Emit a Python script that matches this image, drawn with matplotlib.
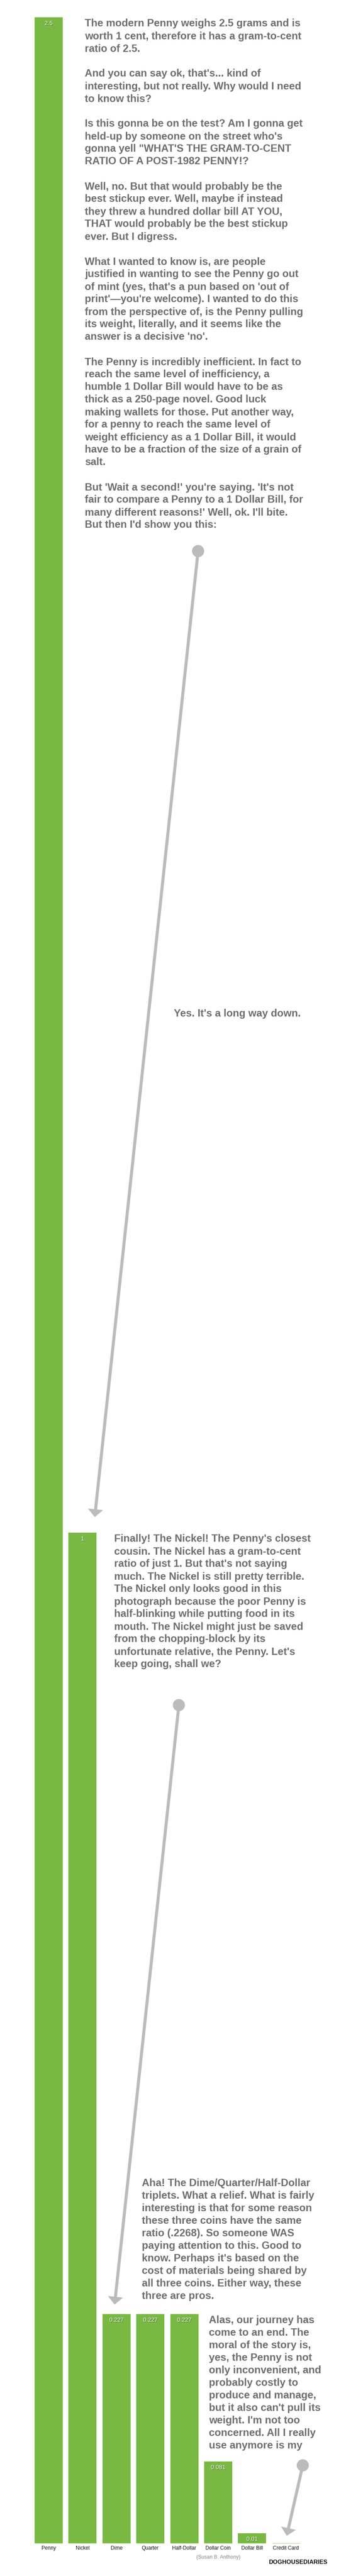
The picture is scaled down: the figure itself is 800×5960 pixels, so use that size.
import matplotlib
matplotlib.use('Agg')
import matplotlib.pyplot as plt
import matplotlib.patheffects as pe
from matplotlib.patches import Circle, Polygon
import numpy as np

# ---------------- data ----------------
categories = ['Penny', 'Nickel', 'Dime', 'Quarter', 'Half-Dollar',
              'Dollar Coin', 'Dollar Bill', 'Credit Card']
grams_per_cent = [2.5, 1.0, 0.2268, 0.2268, 0.2268, 0.081, 0.01, 0.0]
value_labels = ['2.5', '1', '0.227', '0.227', '0.227', '0.081', '0.01', '']
subnote = '(Susan B. Anthony)'
credit = 'DOGHOUSEDIARIES'

intro_lines = [
    "The modern Penny weighs 2.5 grams and is",
    "worth 1 cent, therefore it has a gram-to-cent",
    "ratio of 2.5.",
    "",
    "And you can say ok, that's... kind of",
    "interesting, but not really. Why would I need",
    "to know this?",
    "",
    "Is this gonna be on the test? Am I gonna get",
    "held-up by someone on the street who's",
    "gonna yell \"WHAT'S THE GRAM-TO-CENT",
    "RATIO OF A POST-1982 PENNY!?",
    "",
    "Well, no. But that would probably be the",
    "best stickup ever. Well, maybe if instead",
    "they threw a hundred dollar bill AT YOU,",
    "THAT would probably be the best stickup",
    "ever. But I digress.",
    "",
    "What I wanted to know is, are people",
    "justified in wanting to see the Penny go out",
    "of mint (yes, that's a pun based on 'out of",
    "print'\u2014you're welcome). I wanted to do this",
    "from the perspective of, is the Penny pulling",
    "its weight, literally, and it seems like the",
    "answer is a decisive 'no'.",
    "",
    "The Penny is incredibly inefficient. In fact to",
    "reach the same level of inefficiency, a",
    "humble 1 Dollar Bill would have to be as",
    "thick as a 250-page novel. Good luck",
    "making wallets for those. Put another way,",
    "for a penny to reach the same level of",
    "weight efficiency as a 1 Dollar Bill, it would",
    "have to be a fraction of the size of a grain of",
    "salt.",
    "",
    "But 'Wait a second!' you're saying. 'It's not",
    "fair to compare a Penny to a 1 Dollar Bill, for",
    "many different reasons!' Well, ok. I'll bite.",
    "But then I'd show you this:",
]
long_way_lines = ["Yes. It's a long way down."]
nickel_lines = [
    "Finally! The Nickel! The Penny's closest",
    "cousin. The Nickel has a gram-to-cent",
    "ratio of just 1. But that's not saying",
    "much. The Nickel is still pretty terrible.",
    "The Nickel only looks good in this",
    "photograph because the poor Penny is",
    "half-blinking while putting food in its",
    "mouth. The Nickel might just be saved",
    "from the chopping-block by its",
    "unfortunate relative, the Penny. Let's",
    "keep going, shall we?",
]
triplet_lines = [
    "Aha! The Dime/Quarter/Half-Dollar",
    "triplets. What a relief. What is fairly",
    "interesting is that for some reason",
    "these three coins have the same",
    "ratio (.2268). So someone WAS",
    "paying attention to this. Good to",
    "know. Perhaps it's based on the",
    "cost of materials being shared by",
    "all three coins. Either way, these",
    "three are pros.",
]
end_lines = [
    "Alas, our journey has",
    "come to an end. The",
    "moral of the story is,",
    "yes, the Penny is not",
    "only inconvenient, and",
    "probably costly to",
    "produce and manage,",
    "but it also can't pull its",
    "weight. I'm not too",
    "concerned. All I really",
    "use anymore is my",
]

# ---------------- style / layout ----------------
W, H, DPI = 800, 5960, 100
GREEN = '#79b943'
GREEN_LIGHT = '#b3da90'
TEXT_GREY = '#6e6e6e'
ARROW_GREY = '#bbbbbb'
FONT = ['Liberation Sans', 'DejaVu Sans']
PX = 72.0 / DPI          # points per pixel
BAR_W = 0.83

fig = plt.figure(figsize=(W / DPI, H / DPI), dpi=DPI)
fig.patch.set_facecolor('white')

# chart axes (pixel geometry measured from reference)
x_left, x_right = 73.3, 700.5
y_zero, y_top = 5884.0, 40.0
ax = fig.add_axes([x_left / W, (H - y_zero) / H,
                   (x_right - x_left) / W, (y_zero - y_top) / H])
xpos = np.arange(len(categories))
ax.bar(xpos, grams_per_cent, width=BAR_W, color=GREEN, linewidth=0)
# thin light strip at the foot of each bar
ax.hlines([0] * len(xpos), xpos - BAR_W / 2, xpos + BAR_W / 2,
          color=GREEN_LIGHT, lw=1.2 * PX, zorder=3, clip_on=False)
ax.set_xlim(-0.5, len(categories) - 0.5)
ax.set_ylim(0, max(grams_per_cent))
for s in ax.spines.values():
    s.set_visible(False)
ax.set_yticks([])
ax.set_xticks(xpos)
ax.set_xticklabels(categories, fontsize=11.8 * PX, family=FONT, color='#111111')
ax.tick_params(axis='x', length=0, pad=4.6)
ax.set_facecolor('none')

shadow = [pe.withSimplePatchShadow(offset=(0.6, -0.6), shadow_rgbFace='black', alpha=0.55)]
for xi, v, lab in zip(xpos, grams_per_cent, value_labels):
    if lab:
        ax.annotate(lab, (xi, v), xytext=(0, -18), textcoords='offset pixels',
                    ha='center', va='baseline', color='white',
                    fontsize=13.5 * PX, family=FONT, path_effects=shadow,
                    annotation_clip=False)

# note under the Dollar Coin
ax.annotate(subnote, (categories.index('Dollar Coin'), 0), xytext=(0, -36),
            textcoords='offset pixels', ha='center', va='baseline',
            color='#858585', fontsize=11.8 * PX, family=FONT, annotation_clip=False)

# overlay axes in pixel units for story text and arrows
ov = fig.add_axes([0, 0, 1, 1], zorder=5)
ov.set_xlim(0, W)
ov.set_ylim(H, 0)
ov.axis('off')
ov.patch.set_alpha(0)

LINE = 29.0
BODY_FS = 24.0 * PX


def draw_block(lines, x0, y_base):
    for i, ln in enumerate(lines):
        if ln:
            ov.text(x0, y_base + i * LINE, ln, ha='left', va='baseline',
                    fontsize=BODY_FS, fontweight='bold', family=FONT, color=TEXT_GREY)


draw_block(intro_lines, 196, 61.5)
draw_block(long_way_lines, 402, 2352)
draw_block(nickel_lines, 264, 3567.5)
draw_block(triplet_lines, 328, 5058.3)
draw_block(end_lines, 483, 5374.6)


def draw_arrow(p0, p1, lw_px=7.0, r=14.0, head_w=35.0, head_l=18.0):
    p0 = np.asarray(p0, float)
    p1 = np.asarray(p1, float)
    d = p1 - p0
    u = d / np.hypot(*d)
    n = np.array([-u[1], u[0]])
    base = p1 - u * head_l
    ov.plot([p0[0], base[0] + u[0]], [p0[1], base[1] + u[1]], color=ARROW_GREY,
            lw=lw_px * PX, solid_capstyle='butt')
    ov.add_patch(Circle(p0, r, facecolor=ARROW_GREY, edgecolor='none'))
    ov.add_patch(Polygon([p1, base + n * head_w / 2, base - n * head_w / 2],
                         closed=True, facecolor=ARROW_GREY, edgecolor='none'))


draw_arrow((458, 1275), (219, 3510))
draw_arrow((413.6, 3945), (265, 5332))
draw_arrow((700, 5704), (663, 5867))

ov.text(757, 5932, credit, ha='right', va='baseline', fontsize=13.7 * PX,
        fontweight='bold', family=FONT, color='#111111')

fig.savefig('out.png', dpi=DPI, facecolor='white')
